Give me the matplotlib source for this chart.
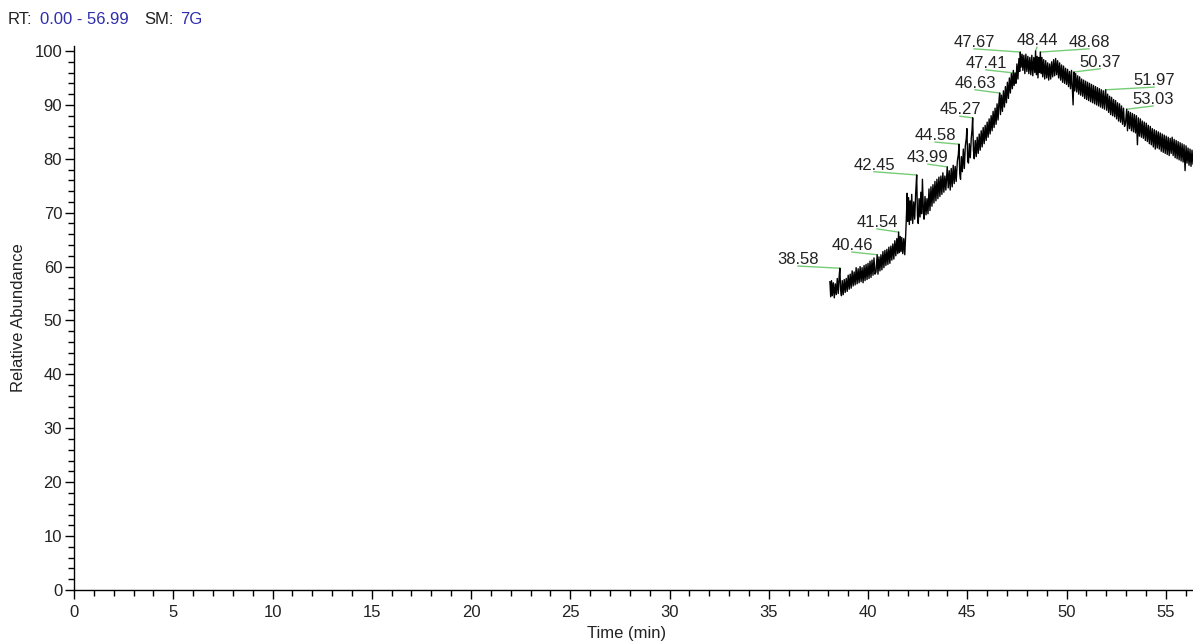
import matplotlib
matplotlib.use('Agg')
import matplotlib.pyplot as plt
from matplotlib.ticker import MultipleLocator

plt.rcParams['font.family'] = ['Liberation Sans', 'DejaVu Sans']

# chromatogram trace (time in min, relative abundance)
rt_min = [
    38.08, 38.12, 38.16, 38.20, 38.25, 38.30, 38.35, 38.40, 38.45, 38.50,
    38.55, 38.58, 38.62, 38.66, 38.70, 38.75, 38.80, 38.85, 38.90, 38.95,
    39.00, 39.05, 39.10, 39.15, 39.20, 39.25, 39.30, 39.35, 39.40, 39.45,
    39.50, 39.55, 39.60, 39.65, 39.70, 39.75, 39.80, 39.85, 39.90, 39.95,
    40.00, 40.05, 40.10, 40.15, 40.20, 40.25, 40.30, 40.35, 40.40, 40.46,
    40.50, 40.55, 40.60, 40.65, 40.70, 40.75, 40.80, 40.85, 40.90, 40.95,
    41.00, 41.05, 41.10, 41.15, 41.20, 41.25, 41.30, 41.35, 41.40, 41.45,
    41.50, 41.54, 41.58, 41.62, 41.66, 41.70, 41.75, 41.80, 41.85, 41.90,
    41.94, 41.97, 42.00, 42.04, 42.08, 42.12, 42.16, 42.20, 42.25, 42.30,
    42.35, 42.40, 42.45, 42.49, 42.53, 42.57, 42.62, 42.66, 42.70, 42.74,
    42.78, 42.82, 42.87, 42.92, 42.97, 43.02, 43.07, 43.12, 43.17, 43.22,
    43.27, 43.32, 43.37, 43.42, 43.47, 43.52, 43.57, 43.62, 43.67, 43.72,
    43.77, 43.82, 43.87, 43.92, 43.99, 44.04, 44.09, 44.14, 44.19, 44.24,
    44.29, 44.34, 44.39, 44.44, 44.50, 44.55, 44.58, 44.62, 44.66, 44.70,
    44.75, 44.80, 44.85, 44.90, 44.95, 44.98, 45.02, 45.06, 45.10, 45.15,
    45.20, 45.24, 45.27, 45.31, 45.35, 45.40, 45.45, 45.50, 45.55, 45.60,
    45.65, 45.70, 45.75, 45.80, 45.85, 45.90, 45.95, 46.00, 46.05, 46.10,
    46.15, 46.20, 46.25, 46.30, 46.35, 46.40, 46.45, 46.50, 46.55, 46.60,
    46.63, 46.67, 46.72, 46.77, 46.82, 46.87, 46.92, 46.97, 47.02, 47.07,
    47.12, 47.17, 47.22, 47.27, 47.32, 47.36, 47.41, 47.45, 47.50, 47.55,
    47.60, 47.64, 47.67, 47.71, 47.76, 47.80, 47.85, 47.90, 47.95, 48.00,
    48.05, 48.10, 48.15, 48.20, 48.25, 48.30, 48.35, 48.40, 48.44, 48.48,
    48.52, 48.56, 48.60, 48.64, 48.68, 48.72, 48.76, 48.80, 48.85, 48.90,
    48.95, 49.00, 49.05, 49.10, 49.15, 49.20, 49.25, 49.30, 49.35, 49.40,
    49.45, 49.50, 49.55, 49.60, 49.65, 49.70, 49.75, 49.80, 49.85, 49.90,
    49.95, 50.00, 50.05, 50.10, 50.15, 50.20, 50.25, 50.30, 50.33, 50.37,
    50.41, 50.46, 50.51, 50.56, 50.61, 50.66, 50.71, 50.76, 50.81, 50.86,
    50.91, 50.96, 51.01, 51.06, 51.11, 51.16, 51.21, 51.26, 51.31, 51.36,
    51.41, 51.46, 51.51, 51.56, 51.61, 51.66, 51.71, 51.76, 51.81, 51.86,
    51.91, 51.97, 52.02, 52.07, 52.12, 52.17, 52.22, 52.27, 52.32, 52.37,
    52.42, 52.47, 52.52, 52.57, 52.62, 52.67, 52.72, 52.77, 52.82, 52.87,
    52.92, 52.97, 53.03, 53.07, 53.12, 53.17, 53.22, 53.27, 53.32, 53.37,
    53.42, 53.47, 53.52, 53.57, 53.62, 53.67, 53.72, 53.77, 53.82, 53.87,
    53.92, 53.97, 54.02, 54.07, 54.12, 54.17, 54.22, 54.27, 54.32, 54.37,
    54.42, 54.47, 54.52, 54.57, 54.62, 54.67, 54.72, 54.77, 54.82, 54.87,
    54.92, 54.97, 55.02, 55.07, 55.12, 55.17, 55.22, 55.27, 55.32, 55.37,
    55.42, 55.47, 55.52, 55.57, 55.62, 55.67, 55.72, 55.77, 55.82, 55.87,
    55.92, 55.97, 56.02, 56.07, 56.12, 56.17, 56.22, 56.27, 56.32, 56.37,
    56.42,
]
abundance = [
    57.2, 54.4, 57.4, 54.6, 57.0, 54.2, 56.8, 54.8, 57.8, 55.0,
    58.4, 59.7, 55.6, 54.6, 57.4, 54.8, 57.6, 55.2, 57.8, 55.4,
    58.4, 55.8, 58.6, 56.0, 59.2, 56.4, 59.0, 56.6, 59.8, 56.8,
    59.6, 57.0, 60.0, 57.2, 59.8, 57.0, 60.2, 57.4, 60.4, 57.6,
    60.6, 57.8, 61.0, 58.0, 61.2, 58.4, 61.6, 58.6, 59.0, 62.2,
    58.6, 61.8, 59.2, 62.2, 59.4, 62.8, 59.8, 63.0, 60.2, 63.2,
    60.4, 63.6, 60.6, 63.8, 61.2, 64.2, 61.4, 64.8, 62.0, 65.2,
    62.4, 66.4, 62.6, 65.6, 62.8, 65.4, 62.4, 65.2, 62.2, 66.2,
    70.0, 73.6, 68.4, 72.8, 67.8, 72.2, 68.6, 73.4, 68.0, 72.0,
    68.8, 73.6, 77.0, 69.4, 68.0, 72.6, 69.2, 73.8, 69.8, 76.2,
    71.2, 68.8, 73.0, 69.6, 72.6, 69.8, 74.4, 70.4, 74.8, 71.2,
    75.2, 71.8, 75.8, 72.2, 76.2, 72.6, 76.6, 73.0, 76.8, 73.4,
    77.4, 73.8, 76.8, 74.2, 78.5, 74.6, 77.8, 74.2, 78.2, 74.8,
    78.8, 75.4, 78.6, 75.8, 79.6, 80.8, 82.7, 77.2, 76.2, 80.4,
    77.6, 81.8, 78.2, 82.4, 83.8, 85.6, 79.6, 79.2, 82.8, 80.2,
    83.8, 85.4, 87.6, 81.6, 80.0, 83.4, 80.4, 84.0, 81.0, 84.6,
    81.6, 85.2, 82.2, 85.8, 82.8, 86.2, 83.4, 86.8, 84.0, 87.4,
    84.6, 88.0, 85.2, 88.8, 85.8, 89.4, 86.4, 90.2, 87.2, 91.0,
    92.2, 88.2, 91.8, 88.8, 92.6, 89.6, 93.4, 90.4, 94.2, 91.2,
    95.0, 92.2, 95.8, 93.0, 96.4, 93.6, 95.9, 94.0, 97.6, 94.8,
    98.6, 96.2, 99.8, 97.0, 99.4, 96.4, 99.2, 95.8, 99.4, 96.2,
    99.0, 95.8, 98.8, 95.6, 99.2, 95.4, 98.8, 96.0, 100.0, 95.6,
    99.0, 95.0, 98.8, 96.0, 99.8, 95.8, 98.8, 95.2, 98.4, 94.8,
    98.2, 95.0, 97.8, 94.6, 97.6, 94.8, 98.0, 95.2, 98.4, 95.4,
    98.6, 95.6, 98.2, 95.0, 97.8, 94.6, 97.4, 94.2, 97.2, 94.0,
    96.8, 93.8, 96.6, 93.4, 96.2, 93.0, 96.4, 92.2, 90.0, 96.1,
    92.6, 95.8, 92.4, 95.4, 92.0, 95.2, 91.8, 94.8, 91.6, 94.6,
    91.2, 94.4, 91.0, 94.2, 90.8, 94.0, 90.6, 93.8, 90.4, 93.6,
    90.2, 93.4, 90.0, 93.2, 89.8, 93.0, 89.6, 92.8, 89.4, 92.6,
    89.2, 92.8, 89.0, 92.0, 88.6, 91.6, 88.2, 91.4, 88.0, 91.0,
    87.8, 90.8, 87.4, 90.4, 87.0, 90.2, 86.8, 89.8, 86.4, 89.4,
    86.0, 86.6, 89.2, 85.2, 88.8, 85.6, 88.6, 85.2, 88.4, 85.0,
    88.2, 84.8, 88.0, 82.6, 87.6, 84.2, 87.4, 84.0, 87.0, 83.8,
    86.8, 83.4, 86.6, 83.2, 86.2, 82.8, 86.0, 82.6, 85.6, 82.2,
    85.4, 81.8, 85.2, 82.0, 85.0, 81.8, 84.8, 81.4, 84.6, 81.2,
    84.4, 81.0, 84.2, 80.8, 84.0, 80.6, 83.8, 81.0, 84.0, 80.6,
    83.6, 80.2, 83.4, 80.0, 83.2, 79.8, 83.0, 79.6, 82.8, 79.4,
    82.6, 77.8, 82.4, 79.2, 82.0, 78.8, 81.8, 78.6, 81.6, 79.0,
    80.6,
]

# labelled peaks (retention times) and where their labels sit
peak_rt = [38.58, 40.46, 41.54, 42.45, 43.99, 44.58, 45.27, 46.63,
           47.41, 47.67, 48.44, 48.68, 50.37, 51.97, 53.03]
label_x = [36.47, 39.19, 40.45, 40.30, 43.02, 43.38, 44.63, 45.39,
           45.94, 45.34, 48.51, 51.13, 51.69, 54.41, 54.36]
label_y = [60.1, 62.7, 67.0, 77.6, 79.0, 83.1, 87.9, 92.8,
           96.5, 100.4, 100.7, 100.4, 96.7, 93.3, 89.8]

x_ticks = [0, 5, 10, 15, 20, 25, 30, 35, 40, 45, 50, 55]
y_ticks = [0, 10, 20, 30, 40, 50, 60, 70, 80, 90, 100]

text_col = '#222222'
blue = '#2e2eaa'
green = '#77cc77'

fig = plt.figure(figsize=(11.93, 6.44), dpi=100)
ax = fig.add_axes([74 / 1193, 54 / 644, 1119 / 1193, 544.4 / 644])

ax.plot(rt_min, abundance, color='black', lw=1.0)

# peak labels with green leader lines
lookup = dict(zip(rt_min, abundance))
for rt, lx, ly in zip(peak_rt, label_x, label_y):
    pv = lookup[rt]
    ax.plot([lx, rt], [ly, pv], color=green, lw=1.0, zorder=1)
    ax.annotate(f'{rt:.2f}', xy=(lx, ly), xytext=(0, 1.5),
                textcoords='offset points', ha='center', va='baseline',
                fontsize=12, color=text_col)

ax.set_xlim(0, 56.37)
ax.set_ylim(0, 101)
ax.set_xticks(x_ticks)
ax.set_yticks(y_ticks)
ax.xaxis.set_minor_locator(MultipleLocator(1))
ax.yaxis.set_minor_locator(MultipleLocator(2))
ax.tick_params(which='major', direction='out', length=6.5, width=1,
               labelsize=12, labelcolor=text_col, pad=2)
ax.tick_params(which='minor', direction='out', length=4.3, width=1)
ax.tick_params(axis='x', which='major', pad=4)

for side in ['top', 'right']:
    ax.spines[side].set_visible(False)
for side in ['left', 'bottom']:
    ax.spines[side].set_linewidth(1)

ax.set_xlabel('Time (min)', fontsize=12, color=text_col)
ax.xaxis.set_label_coords(0.494, -0.066)
ax.set_ylabel('Relative Abundance', fontsize=12, color=text_col)
ax.yaxis.set_label_coords(-0.043, 0.5)

# header line
hy = 1 - 20 / 644
fig.text(8 / 1193, hy, 'RT:', fontsize=12, color=text_col, va='center')
fig.text(40 / 1193, hy, '0.00 - 56.99', fontsize=12, color=blue, va='center')
fig.text(144 / 1193, hy, 'SM:', fontsize=12, color=text_col, va='center')
fig.text(180 / 1193, hy, '7G', fontsize=12, color=blue, va='center')

fig.savefig('out.png', dpi=100)
